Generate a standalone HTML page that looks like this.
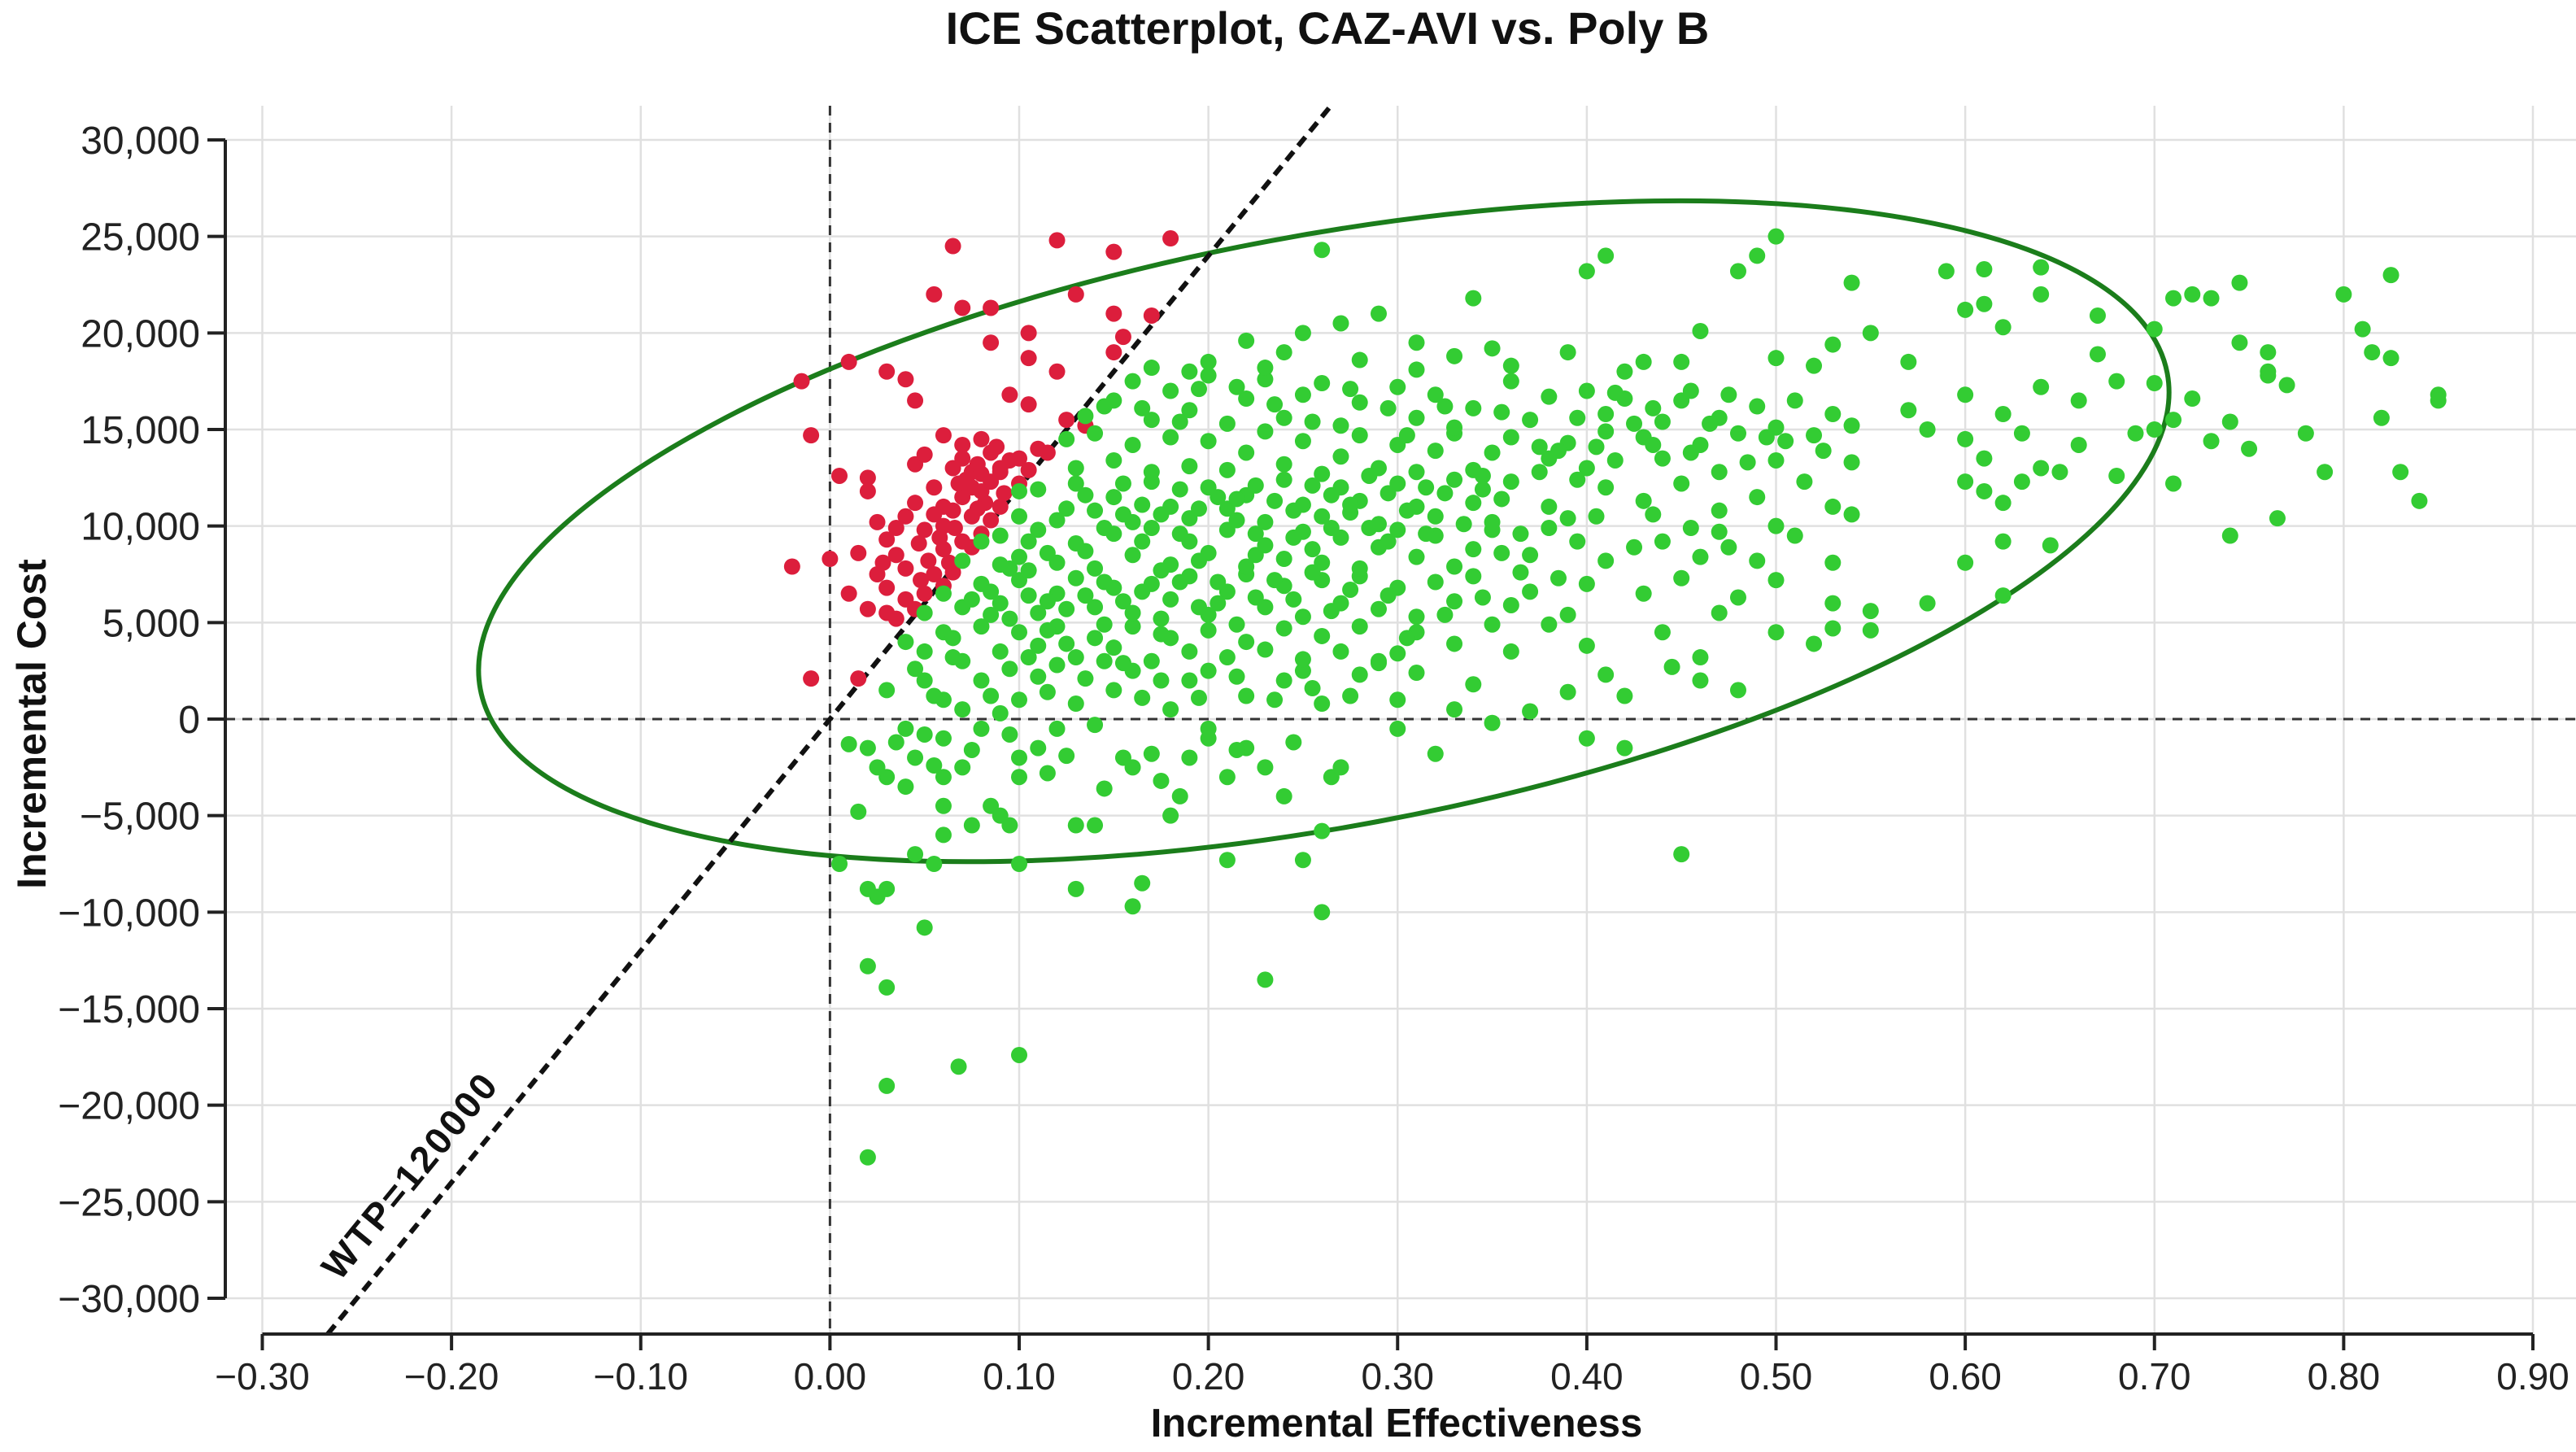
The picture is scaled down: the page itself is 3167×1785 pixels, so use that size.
<!DOCTYPE html>
<html><head><meta charset="utf-8"><style>
html,body{margin:0;padding:0;background:#fff;}
svg{display:block;font-family:"Liberation Sans",sans-serif;}
</style></head><body>
<svg id="chart" width="3167" height="1785" viewBox="0 0 3167 1785" xmlns="http://www.w3.org/2000/svg">
<text x="1632" y="54" text-anchor="middle" font-size="56" font-weight="bold" fill="#111">ICE Scatterplot, CAZ-AVI vs. Poly B</text>
<g id="grid"></g>
<g id="refs"></g>
<g id="pts"></g>
<g id="axes"></g>
<text x="1717" y="1766" text-anchor="middle" font-size="49" font-weight="bold" fill="#111">Incremental Effectiveness</text>
<text transform="translate(56,890) rotate(-90)" text-anchor="middle" font-size="50" font-weight="bold" fill="#111">Incremental Cost</text>
</svg>
<script>
const xTicks = [-0.3,-0.2,-0.1,0,0.1,0.2,0.3,0.4,0.5,0.6,0.7,0.8,0.9];
const xTickLabels = ["\u22120.30","\u22120.20","\u22120.10","0.00","0.10","0.20","0.30","0.40","0.50","0.60","0.70","0.80","0.90"];
const yTicks = [30000,25000,20000,15000,10000,5000,0,-5000,-10000,-15000,-20000,-25000,-30000];
const yTickLabels = ["30,000","25,000","20,000","15,000","10,000","5,000","0","\u22125,000","\u221210,000","\u221215,000","\u221220,000","\u221225,000","\u221230,000"];
const wtp = 120000;
const wtpLabel = "WTP=120000";
const ellipseCenter = [0.261, 9730];
const redPoints = [[0.12,24.8],[0.065,24.5],[0.15,24.2],[0.18,24.9],[0.055,22],[0.13,22],[0.07,21.3],[0.085,21.3],[0.15,21],[0.17,20.9],[0.155,19.8],[0.105,20],[0.085,19.5],[0.105,18.7],[0.01,18.5],[0.03,18],[0.04,17.6],[0.12,18],[0.15,19],[-0.015,17.5],[0.045,16.5],[0.095,16.8],[0.105,16.3],[0.125,15.5],[0.06,14.7],[-0.01,14.7],[0.135,15.2],[0.08,14.5],[0.085,13.8],[0.07,13.5],[0.045,13.2],[0.05,13.7],[0.065,13],[0.075,12.8],[0.09,13],[0.1,13.5],[0.11,14],[0.005,12.6],[0.02,12.5],[0.02,11.8],[0.055,12],[0.07,11.5],[0.075,12],[0.085,12.3],[0.08,11.8],[0.1,12.2],[0.065,10.8],[0.075,10.5],[0.09,11],[0.085,10.3],[0.04,10.5],[0.025,10.2],[0.05,9.8],[0.06,10],[0.03,9.3],[0.035,8.5],[0.06,8.8],[0.07,9.2],[0.075,8.9],[0.08,9.6],[0.015,8.6],[0.0,8.3],[0.04,7.8],[0.055,7.5],[0.06,6.9],[0.065,7.6],[0.025,7.5],[0.03,6.8],[0.04,6.2],[0.05,6.5],[0.045,5.7],[0.01,6.5],[0.02,5.7],[-0.02,7.9],[0.03,5.5],[0.035,5.2],[-0.01,2.1],[0.015,2.1],[0.06,11],[0.09,12.8],[0.045,11.2],[0.08,12.7],[0.07,14.2],[0.078,13.2],[0.088,14.1],[0.095,13.4],[0.072,12.4],[0.082,11.2],[0.058,9.4],[0.066,9.9],[0.052,8.2],[0.063,8.1],[0.047,9.1],[0.078,10.9],[0.092,11.7],[0.105,12.9],[0.115,13.8],[0.055,10.6],[0.035,9.9],[0.048,7.2],[0.028,8.1],[0.068,12.2]];
const greenPoints = [[0.01,-1.3],[0.02,-1.5],[0.025,-2.5],[0.04,-3.5],[0.03,-3],[0.05,-0.8],[0.045,-2],[0.06,-1],[0.06,-3],[0.07,-2.5],[0.08,-0.5],[0.085,-4.5],[0.09,-5],[0.095,-5.5],[0.1,-2],[0.1,-3],[0.11,-1.5],[0.12,-0.5],[0.13,-5.5],[0.14,-0.3],[0.155,-2],[0.16,-2.5],[0.17,-1.8],[0.18,-5],[0.19,-2],[0.2,-0.5],[0.21,-3],[0.22,-1.5],[0.23,-2.5],[0.24,-4],[0.26,-5.8],[0.265,-3],[0.27,-2.5],[0.3,-0.5],[0.32,-1.8],[0.35,-0.2],[0.4,-1],[0.42,-1.5],[0.45,-7],[0.005,-7.5],[0.02,-8.8],[0.025,-9.2],[0.03,-8.8],[0.045,-7],[0.055,-7.5],[0.06,-6],[0.1,-7.5],[0.13,-8.8],[0.165,-8.5],[0.16,-9.7],[0.21,-7.3],[0.25,-7.3],[0.26,-10],[0.05,-10.8],[0.02,-12.8],[0.03,-13.9],[0.23,-13.5],[0.03,-19],[0.068,-18],[0.1,-17.4],[0.02,-22.7],[0.015,-4.8],[0.06,-4.5],[0.075,-5.5],[0.115,-2.8],[0.14,-5.5],[0.185,-4],[0.2,-1],[0.04,-0.5],
[0.03,1.5],[0.05,2],[0.07,0.5],[0.08,2],[0.1,1],[0.11,2.2],[0.13,0.8],[0.15,1.5],[0.16,2.5],[0.18,0.5],[0.19,2],[0.22,1.2],[0.24,2],[0.26,0.8],[0.28,2.3],[0.3,1],[0.31,2.4],[0.33,0.5],[0.34,1.8],[0.37,0.4],[0.39,1.4],[0.41,2.3],[0.42,1.2],[0.445,2.7],[0.46,2],[0.48,1.5],[0.12,2.8],[0.2,2.5],[0.06,1],[0.09,0.3],[0.25,2.5],[0.29,2.9],
[0.04,4],[0.05,3.5],[0.06,4.5],[0.07,3],[0.08,4.8],[0.09,3.5],[0.1,4.5],[0.11,3.8],[0.12,4.8],[0.13,3.2],[0.14,4.2],[0.15,3.7],[0.16,4.8],[0.17,3],[0.18,4.2],[0.19,3.5],[0.2,4.6],[0.21,3.2],[0.22,4],[0.23,3.6],[0.24,4.7],[0.25,3.1],[0.26,4.3],[0.27,3.5],[0.28,4.8],[0.3,3.4],[0.31,4.5],[0.33,3.9],[0.35,4.9],[0.36,3.5],[0.38,4.9],[0.4,3.8],[0.44,4.5],[0.46,3.2],[0.5,4.5],[0.53,4.7],[0.55,4.6],[0.52,3.9],[0.29,3],[0.125,3.9],[0.155,2.9],
[0.05,5.5],[0.06,6.5],[0.07,5.8],[0.08,7],[0.09,6],[0.1,7.2],[0.11,5.5],[0.12,6.5],[0.13,7.3],[0.14,5.8],[0.15,6.8],[0.16,5.5],[0.17,7],[0.18,6.2],[0.19,7.4],[0.2,5.4],[0.21,6.6],[0.22,7.5],[0.23,5.8],[0.24,6.9],[0.25,5.3],[0.26,7.2],[0.27,6],[0.28,7.4],[0.29,5.7],[0.3,6.8],[0.31,5.3],[0.32,7.1],[0.33,6.1],[0.34,7.4],[0.36,5.9],[0.37,6.6],[0.39,5.4],[0.4,7],[0.43,6.5],[0.45,7.3],[0.47,5.5],[0.48,6.3],[0.5,7.2],[0.53,6],[0.55,5.6],[0.58,6],[0.62,6.4],[0.115,6.1],[0.145,7.1],[0.175,5.2],[0.205,6],[0.235,7.2],[0.265,5.6],[0.095,5.2],
[0.07,8.2],[0.08,9.2],[0.09,8],[0.09,9.5],[0.1,8.4],[0.11,9.8],[0.12,8.1],[0.13,9.1],[0.14,7.8],[0.15,9.6],[0.16,8.5],[0.17,9.9],[0.18,8],[0.19,9.2],[0.2,8.6],[0.21,9.8],[0.22,7.9],[0.23,9],[0.24,8.3],[0.25,9.7],[0.26,8.1],[0.27,9.4],[0.28,7.8],[0.29,8.9],[0.3,9.8],[0.31,8.4],[0.32,9.5],[0.33,7.9],[0.34,8.8],[0.35,9.8],[0.37,8.5],[0.38,9.9],[0.41,8.2],[0.44,9.2],[0.46,8.4],[0.47,9.7],[0.49,8.2],[0.51,9.5],[0.53,8.1],[0.6,8.1],[0.62,9.2],[0.645,9],[0.105,7.7],[0.135,8.7],[0.165,9.2],[0.195,8.2],[0.255,8.8],[0.285,9.9],[0.225,8.5],[0.175,7.7],
[0.1,11.8],[0.1,10.5],[0.11,11.9],[0.12,10.3],[0.13,12.2],[0.14,10.8],[0.15,11.5],[0.16,10.2],[0.17,12.3],[0.18,11],[0.19,10.4],[0.2,12],[0.21,10.9],[0.22,11.6],[0.23,10.2],[0.24,12.4],[0.25,11.1],[0.26,10.5],[0.27,12],[0.28,11.3],[0.29,10.1],[0.3,12.2],[0.31,11],[0.32,10.5],[0.33,12.4],[0.34,11.2],[0.35,10.2],[0.36,12.3],[0.38,11],[0.39,10.4],[0.41,12],[0.43,11.3],[0.45,12.2],[0.47,10.8],[0.49,11.5],[0.5,10],[0.53,11],[0.54,10.6],[0.6,12.3],[0.61,11.8],[0.62,11.2],[0.63,12.3],[0.65,12.8],[0.68,12.6],[0.71,12.2],[0.215,11.4],[0.245,10.8],[0.265,11.6],[0.275,10.7],[0.225,12.1],[0.185,11.9],[0.155,10.6],[0.295,11.7],[0.315,12],[0.345,11.9],
[0.125,14.5],[0.13,13],[0.14,14.8],[0.15,13.4],[0.16,14.2],[0.17,12.8],[0.18,14.6],[0.19,13.1],[0.2,14.4],[0.21,12.9],[0.22,13.8],[0.23,14.9],[0.24,13.2],[0.25,14.4],[0.26,12.7],[0.27,13.6],[0.28,14.7],[0.29,13],[0.3,14.2],[0.31,12.8],[0.32,13.9],[0.33,14.8],[0.34,12.9],[0.35,13.8],[0.36,14.6],[0.38,13.5],[0.39,14.3],[0.4,13],[0.41,14.9],[0.43,14.6],[0.44,13.5],[0.46,14.2],[0.47,12.8],[0.48,14.8],[0.5,13.4],[0.52,14.7],[0.54,13.3],[0.58,15],[0.6,14.5],[0.61,13.5],[0.63,14.8],[0.64,13],[0.66,14.2],[0.69,14.8],[0.7,15],[0.73,14.4],[0.75,14],[0.78,14.8],[0.79,12.8],[0.83,12.8],[0.84,11.3],[0.765,10.4],[0.74,9.5],
[0.15,16.5],[0.16,17.5],[0.17,15.5],[0.18,17],[0.19,16],[0.2,17.8],[0.21,15.3],[0.22,16.6],[0.23,17.6],[0.24,15.6],[0.25,16.8],[0.26,17.4],[0.27,15.2],[0.28,16.4],[0.3,17.2],[0.31,15.6],[0.32,16.8],[0.33,15.1],[0.34,16.1],[0.36,17.5],[0.37,15.5],[0.38,16.7],[0.4,17],[0.41,15.8],[0.42,16.6],[0.44,15.4],[0.45,16.5],[0.47,15.6],[0.49,16.2],[0.5,15.1],[0.51,16.5],[0.53,15.8],[0.54,15.2],[0.57,16],[0.6,16.8],[0.62,15.8],[0.64,17.2],[0.66,16.5],[0.68,17.5],[0.7,17.4],[0.72,16.6],[0.74,15.4],[0.76,17.8],[0.77,17.3],[0.85,16.8],[0.85,16.5],[0.82,15.6],[0.71,15.5],
[0.17,18.2],[0.2,18.5],[0.22,19.6],[0.24,19],[0.25,20],[0.26,24.3],[0.28,18.6],[0.29,21],[0.31,19.5],[0.33,18.8],[0.34,21.8],[0.35,19.2],[0.36,18.3],[0.39,19],[0.4,23.2],[0.41,24],[0.43,18.5],[0.46,20.1],[0.48,23.2],[0.49,24],[0.5,25],[0.5,18.7],[0.52,18.3],[0.53,19.4],[0.55,20],[0.54,22.6],[0.57,18.5],[0.59,23.2],[0.6,21.2],[0.61,23.3],[0.61,21.5],[0.62,20.3],[0.64,23.4],[0.64,22],[0.67,20.9],[0.67,18.9],[0.7,20.2],[0.71,21.8],[0.72,22],[0.73,21.8],[0.745,22.6],[0.745,19.5],[0.76,19],[0.76,18],[0.8,22],[0.81,20.2],[0.815,19],[0.825,23],[0.825,18.7],[0.23,18.2],[0.27,20.5],[0.31,18.1],[0.45,18.5],[0.42,18],[0.19,18],
[0.085,6.6],[0.095,7.8],[0.105,9.2],[0.115,8.6],[0.125,10.9],[0.135,11.6],[0.145,9.9],[0.155,12.2],[0.165,11.1],[0.175,10.6],[0.185,9.6],[0.195,10.9],[0.205,11.5],[0.215,10.3],[0.225,9.6],[0.235,11.3],[0.245,9.4],[0.255,12.1],[0.265,9.9],[0.275,11.1],[0.285,12.6],[0.295,9.2],[0.305,10.8],[0.315,9.6],[0.325,11.7],[0.335,10.1],[0.345,12.6],[0.355,11.4],[0.365,9.6],[0.375,12.8],[0.385,13.9],[0.395,12.4],[0.405,14.1],[0.415,13.4],[0.425,15.3],[0.435,14.2],[0.455,13.8],[0.465,15.3],[0.485,13.3],[0.505,14.4],[0.515,12.3],[0.525,13.9],
[0.065,4.2],[0.075,6.2],[0.085,5.4],[0.105,6.4],[0.115,4.6],[0.125,5.7],[0.135,6.4],[0.145,4.9],[0.155,6.1],[0.165,6.6],[0.175,4.4],[0.185,7.1],[0.195,5.8],[0.205,7.1],[0.215,4.9],[0.225,6.3],[0.245,6.2],[0.255,7.6],[0.275,6.7],[0.295,6.4],[0.305,4.2],[0.325,5.4],[0.345,6.3],[0.355,8.6],[0.365,7.6],[0.385,7.3],[0.395,9.2],[0.405,10.5],[0.425,8.9],[0.435,10.6],[0.455,9.9],[0.475,8.9],
[0.135,15.7],[0.145,16.2],[0.165,16.1],[0.185,15.4],[0.195,17.1],[0.215,17.2],[0.235,16.3],[0.255,15.4],[0.275,17.1],[0.295,16.1],[0.305,14.7],[0.325,16.2],[0.355,15.9],[0.375,14.1],[0.395,15.6],[0.415,16.9],[0.435,16.1],[0.455,17],[0.475,16.8],[0.495,14.6],
[0.045,2.6],[0.055,1.2],[0.065,3.2],[0.085,1.2],[0.095,2.6],[0.105,3.2],[0.115,1.4],[0.135,2.1],[0.145,3],[0.165,1.1],[0.175,2],[0.195,1.1],[0.215,2.2],[0.235,1],[0.255,1.6],[0.275,1.2],[0.035,-1.2],[0.055,-2.4],[0.075,-1.6],[0.095,-0.8],[0.125,-1.9],[0.145,-3.6],[0.175,-3.2],[0.215,-1.6],[0.245,-1.2]];

const NS="http://www.w3.org/2000/svg";
const X0=322.5, X1=3114, XMIN=-0.3, XMAX=0.9;
const Y0=172, Y1=1596, YMAX=30000, YMIN=-30000;
function sx(v){return X0+(v-XMIN)/(XMAX-XMIN)*(X1-X0);}
function sy(v){return Y0+(YMAX-v)/(YMAX-YMIN)*(Y1-Y0);}
function mk(tag,attrs,parent){const e=document.createElementNS(NS,tag);for(const k in attrs)e.setAttribute(k,attrs[k]);parent.appendChild(e);return e;}
const grid=document.getElementById('grid'),refs=document.getElementById('refs'),pts=document.getElementById('pts'),axes=document.getElementById('axes');
const AXY=1640, AXX=277;
xTicks.forEach((t,i)=>{
  const g=mk('line',{x1:sx(t),x2:sx(t),y1:130,y2:AXY,stroke:'#e0e0e0','stroke-width':2.5},grid);
  
  
  const tk=mk('line',{x1:sx(t),x2:sx(t),y1:AXY,y2:AXY+20,stroke:'#222','stroke-width':4},axes);
  
  
  const tl=mk('text',{x:sx(t),y:1708,'text-anchor':'middle','font-size':46,fill:'#222'},axes);
  tl.textContent=xTickLabels[i];
  
  
});
yTicks.forEach((t,i)=>{
  const g=mk('line',{x1:AXX,x2:3167,y1:sy(t),y2:sy(t),stroke:'#e0e0e0','stroke-width':2.5},grid);
  
  
  const tk=mk('line',{x1:AXX-22,x2:AXX,y1:sy(t),y2:sy(t),stroke:'#222','stroke-width':4},axes);
  
  
  const tl=mk('text',{x:246,y:sy(t)+17,'text-anchor':'end','font-size':48,fill:'#222'},axes);
  tl.textContent=yTickLabels[i];
  
  
});
const ya=mk('line',{x1:AXX,x2:AXX,y1:Y0,y2:Y1,stroke:'#222','stroke-width':4},axes);


const xa=mk('line',{x1:X0,x2:X1,y1:AXY,y2:AXY,stroke:'#222','stroke-width':4},axes);


const z1=mk('line',{x1:sx(0),x2:sx(0),y1:130,y2:AXY,stroke:'#333','stroke-width':3,'stroke-dasharray':'12 9'},refs);


const z2=mk('line',{x1:AXX,x2:3167,y1:sy(0),y2:sy(0),stroke:'#333','stroke-width':3,'stroke-dasharray':'12 9'},refs);


redPoints.forEach(p=>{
  const c=mk('circle',{cx:sx(p[0]),cy:sy(p[1]*1000),r:10,fill:'#dc1e3c'},pts);
  
  
});
greenPoints.forEach(p=>{
  const c=mk('circle',{cx:sx(p[0]),cy:sy(p[1]*1000),r:10,fill:'#33cc33'},pts);
  
  
});
const ecx=sx(ellipseCenter[0]), ecy=sy(ellipseCenter[1]);
const el=mk('ellipse',{cx:0,cy:0,rx:1055,ry:363,fill:'none',stroke:'#1b7d1b','stroke-width':6,transform:`translate(${ecx},${ecy}) rotate(-10.6)`},refs);


const yTop=130, yBot=AXY;
const vTop=YMAX-(yTop-Y0)/(Y1-Y0)*(YMAX-YMIN), vBot=YMAX-(yBot-Y0)/(Y1-Y0)*(YMAX-YMIN);
const wl=mk('line',{x1:sx(vBot/wtp),y1:yBot,x2:sx(vTop/wtp),y2:yTop,stroke:'#111','stroke-width':6,'stroke-dasharray':'14 9'},refs);


const ang=Math.atan2((sy(0)-sy(wtp)) ,(sx(1)-sx(0)))*180/Math.PI;
const lx=sx(-23850/wtp)-55, ly=sy(-23850)-4;
const wt=mk('text',{x:0,y:16,'text-anchor':'middle','font-size':46,'font-weight':'bold',fill:'#111',transform:`translate(${lx},${ly}) rotate(${-ang})`,textLength:310},refs);
wt.textContent=wtpLabel;


</script>
</body></html>
